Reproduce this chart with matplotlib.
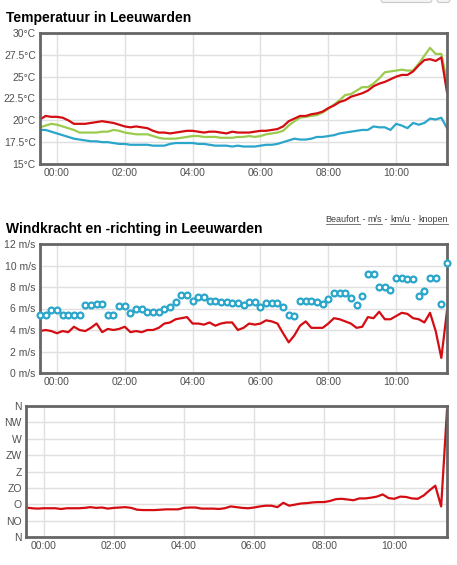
import numpy as np
import matplotlib
matplotlib.use("Agg")
import matplotlib.pyplot as plt
from matplotlib.patches import FancyBboxPatch

plt.rcParams['font.family'] = ['Liberation Sans', 'DejaVu Sans']

# tijdstippen: elke 10 minuten van 23:30 tot 11:30 (uren t.o.v. 00:00)
tijd = np.arange(73) / 6.0 - 0.5
tijd_ticks = [0, 2, 4, 6, 8, 10]
tijd_labels = ['00:00', '02:00', '04:00', '06:00', '08:00', '10:00']

temp_rood = [20.1, 20.5, 20.4, 20.4, 20.3, 20.0, 19.6, 19.6, 19.6, 19.7, 19.8, 19.9, 19.8,
             19.7, 19.5, 19.3, 19.2, 19.3, 19.2, 19.1, 18.8, 18.6, 18.6, 18.5, 18.6, 18.7,
             18.8, 18.8, 18.7, 18.6, 18.7, 18.7, 18.6, 18.5, 18.7, 18.6, 18.6, 18.6, 18.7,
             18.8, 18.8, 18.9, 19.0, 19.3, 19.9, 20.2, 20.5, 20.5, 20.7, 20.8, 21.0, 21.4,
             21.7, 22.1, 22.3, 22.7, 22.9, 23.1, 23.4, 23.9, 24.2, 24.4, 24.7, 25.0, 25.2,
             25.2, 25.6, 26.3, 26.9, 27.0, 26.8, 27.2, 23.2]
temp_groen = [19.2, 19.4, 19.6, 19.5, 19.3, 19.1, 18.9, 18.6, 18.6, 18.6, 18.6, 18.7, 18.7,
              18.9, 18.8, 18.6, 18.5, 18.4, 18.4, 18.4, 18.2, 18.0, 17.9, 17.9, 17.9, 18.0,
              18.1, 18.2, 18.2, 18.1, 18.1, 18.1, 18.0, 18.0, 18.0, 18.1, 18.1, 18.2, 18.1,
              18.2, 18.4, 18.5, 18.6, 18.8, 19.4, 19.9, 20.3, 20.4, 20.5, 20.6, 20.9, 21.3,
              21.8, 22.3, 22.9, 23.0, 23.4, 23.8, 23.8, 24.2, 24.8, 25.5, 25.6, 25.7, 25.8,
              25.7, 25.7, 26.5, 27.4, 28.3, 27.6, 27.6, 24.5]
temp_blauw = [18.9, 18.9, 18.7, 18.5, 18.3, 18.1, 17.9, 17.8, 17.7, 17.6, 17.6, 17.5, 17.5,
              17.4, 17.3, 17.3, 17.2, 17.2, 17.2, 17.2, 17.1, 17.1, 17.1, 17.3, 17.4, 17.4,
              17.4, 17.4, 17.3, 17.3, 17.2, 17.1, 17.1, 17.1, 17.0, 17.1, 17.0, 17.0, 17.0,
              17.1, 17.2, 17.2, 17.3, 17.5, 17.7, 17.9, 17.8, 17.8, 17.9, 18.1, 18.1, 18.2,
              18.3, 18.5, 18.6, 18.7, 18.8, 18.9, 18.9, 19.3, 19.2, 19.2, 18.9, 19.6, 19.4,
              19.1, 19.7, 19.5, 19.7, 20.2, 20.1, 20.3, 19.1]

wind_stoten = [5.4, 5.4, 5.9, 5.9, 5.4, 5.4, 5.4, 5.4, 6.3, 6.3, 6.4, 6.4, 5.4, 5.4, 6.2,
               6.2, 5.6, 6.0, 6.0, 5.7, 5.7, 5.7, 6.0, 6.1, 6.6, 7.3, 7.3, 6.7, 7.1, 7.1,
               6.7, 6.7, 6.6, 6.6, 6.5, 6.5, 6.3, 6.6, 6.6, 6.1, 6.5, 6.5, 6.5, 6.1, 5.4,
               5.3, 6.7, 6.7, 6.7, 6.6, 6.4, 6.9, 7.4, 7.4, 7.4, 7.0, 6.3, 7.2, 9.2, 9.2,
               8.0, 8.0, 7.7, 8.8, 8.8, 8.7, 8.7, 7.2, 7.6, 8.8, 8.8, 6.4, 10.2]
wind_gem = [3.9, 4.0, 3.9, 3.7, 3.9, 3.8, 4.3, 4.0, 3.9, 4.2, 4.6, 3.8, 4.1, 4.0, 4.1,
            4.3, 3.8, 3.9, 3.8, 4.0, 4.0, 4.2, 4.6, 4.7, 5.0, 5.1, 5.2, 4.6, 4.6, 4.5,
            4.7, 4.4, 4.6, 4.7, 4.7, 4.0, 4.2, 4.6, 4.5, 4.6, 4.9, 4.8, 4.6, 3.7, 2.85,
            3.5, 4.4, 4.8, 4.2, 4.2, 4.2, 4.6, 5.1, 5.0, 4.8, 4.6, 4.2, 4.3, 5.2, 5.1,
            5.7, 5.0, 5.0, 5.3, 5.6, 5.5, 5.1, 5.0, 4.7, 5.6, 3.9, 1.4, 5.8]

richting = [81, 79, 78, 79, 79, 79, 77, 79, 79, 79, 80, 82, 80, 81, 78, 80, 81, 82, 80,
            75, 74, 74, 74, 75, 76, 76, 76, 80, 81, 81, 78, 78, 78, 77, 79, 84, 82, 80,
            79, 81, 84, 86, 86, 82, 94, 86, 89, 92, 93, 95, 96, 96, 99, 104, 105, 103,
            101, 106, 106, 108, 111, 117, 107, 105, 111, 110, 106, 105, 114, 128, 141,
            84, 349]
richting_labels = ['N', 'NO', 'O', 'ZO', 'Z', 'ZW', 'W', 'NW', 'N']

rood = '#d40d12'
groen = '#9bcb4d'
blauw = '#2ba6cb'
rand = '#666666'
grid_kleur = '#e0e0e0'
tekst = '#505050'

W, H = 457, 565
fig = plt.figure(figsize=(W / 100, H / 100), dpi=100)


def maak_as(left, top, right, bottom):
    ax = fig.add_axes([left / W, 1 - bottom / H, (right - left) / W, (bottom - top) / H])
    for s in ax.spines.values():
        s.set_color(rand)
        s.set_linewidth(2)
    ax.set_xlim(-0.5, 11.5)
    ax.set_xticks(tijd_ticks)
    ax.set_xticklabels(tijd_labels)
    ax.grid(True, color=grid_kleur, lw=1)
    ax.set_axisbelow(True)
    ax.tick_params(length=0, labelsize=7.5, labelcolor=tekst, pad=3)
    return ax


# temperatuur
ax1 = maak_as(40, 33, 447, 164)
ax1.plot(tijd, temp_blauw, color=blauw, lw=1.6)
ax1.plot(tijd, temp_groen, color=groen, lw=1.6)
ax1.plot(tijd, temp_rood, color=rood, lw=1.6)
ax1.set_ylim(15, 30)
t_ticks = [15, 17.5, 20, 22.5, 25, 27.5, 30]
ax1.set_yticks(t_ticks)
ax1.set_yticklabels([('%g' % v) + '°C' for v in t_ticks])
fig.text(6 / W, 1 - 18 / H, 'Temperatuur in Leeuwarden', fontsize=10,
         fontweight='bold', va='center', ha='left')

# wind
ax2 = maak_as(40, 244, 447, 373)
ax2.plot(tijd, wind_gem, color=rood, lw=1.6, zorder=2)
ax2.plot(tijd, wind_stoten, 'o', ms=4.2, mfc='white', mec=blauw, mew=1.6,
         clip_on=False, zorder=3)
ax2.set_ylim(0, 12)
w_ticks = [0, 2, 4, 6, 8, 10, 12]
ax2.set_yticks(w_ticks)
ax2.set_yticklabels(['%d m/s' % v for v in w_ticks])
fig.text(6 / W, 1 - 229 / H, 'Windkracht en -richting in Leeuwarden', fontsize=10,
         fontweight='bold', va='center', ha='left')

# eenheden-links, rechts uitgelijnd met onderstreping
delen = [('knopen', True), (' - ', False), ('km/u', True), (' - ', False),
         ('m/s', True), (' - ', False), ('Beaufort', True)]
fig.canvas.draw()
r = fig.canvas.get_renderer()
x_rechts = 447.5
for woord, onder in delen:
    t = fig.text(x_rechts / W, 1 - 220 / H, woord, fontsize=6.5, color='#404040',
                 ha='right', va='center')
    bb = t.get_window_extent(r)
    if onder:
        y_lijn = bb.y0 + 0.5
        fig.add_artist(plt.Line2D([bb.x0 / W, bb.x1 / W], [y_lijn / H, y_lijn / H],
                                  color='#606060', lw=0.6))
    x_rechts = bb.x0

# richting
ax3 = maak_as(26, 406, 447, 537)
ax3.plot(tijd, richting, color=rood, lw=1.6)
ax3.set_ylim(0, 360)
ax3.set_yticks(np.arange(0, 361, 45))
ax3.set_yticklabels(richting_labels)

# stukjes knoppen bovenaan
for x0, x1 in [(381, 432), (437, 450)]:
    p = FancyBboxPatch((x0 / W, 1 - 2.5 / H), (x1 - x0) / W, 10 / H,
                       boxstyle='round,pad=0,rounding_size=0.006', transform=fig.transFigure,
                       fc='#f4f4f4', ec='#c8c8c8', lw=0.8)
    fig.add_artist(p)

fig.savefig('out.png', dpi=100)
